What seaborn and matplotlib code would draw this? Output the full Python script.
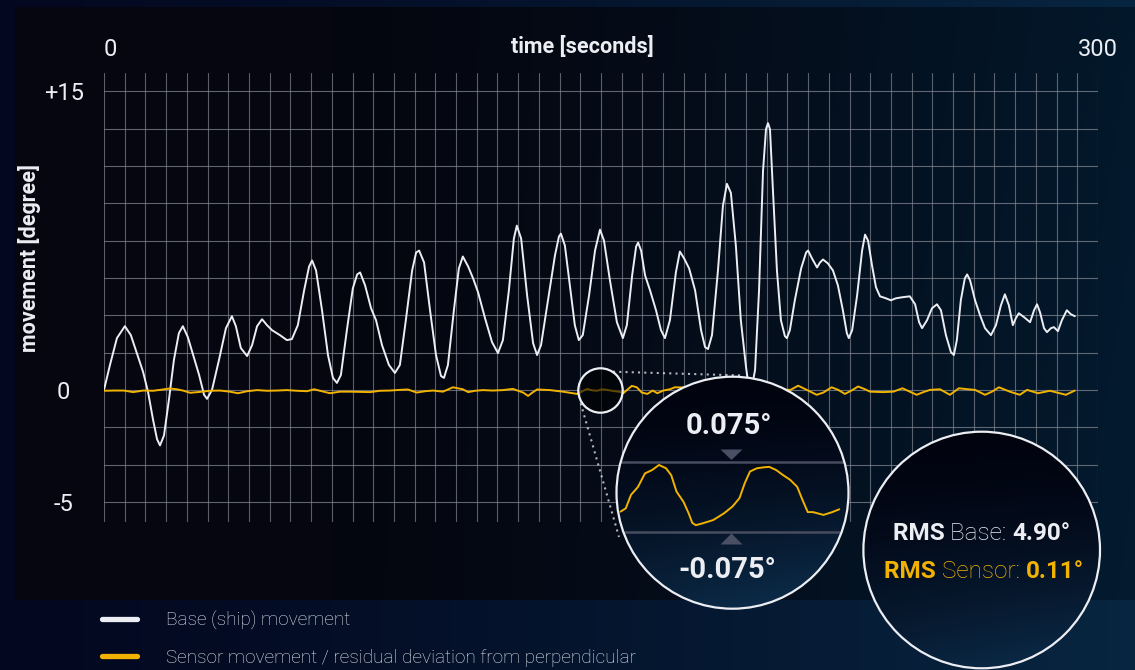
import numpy as np
import seaborn as sns
import matplotlib.pyplot as plt
import matplotlib.colors as mcolors
from matplotlib.patches import Circle
from matplotlib.lines import Line2D

# ---- data ----------------------------------------------------------------
# base (ship) movement: time [s], angle [degree]
base_t = [0.0, 1.8, 3.9, 6.3, 8.1, 10.3, 11.8, 13.3, 14.8, 16.0,
          16.9, 18.1, 19.6, 21.1, 22.6, 23.8, 25.3, 26.9, 28.7, 30.2,
          31.1, 32.6, 34.7, 36.8, 38.6, 39.8, 41.3, 43.2, 44.7, 46.2,
          47.7, 49.2, 50.7, 53.1, 55.2, 56.7, 58.5, 60.4, 61.9, 62.8,
          64.0, 65.8, 67.6, 69.1, 70.3, 71.5, 73.3, 75.1, 76.4, 77.3,
          78.8, 80.6, 82.1, 83.9, 86.0, 87.8, 89.3, 91.1, 93.0, 94.2,
          95.1, 96.6, 98.4, 100.2, 101.7, 102.6, 103.8, 105.6, 107.1, 108.3,
          109.9, 111.4, 112.9, 115.0, 117.1, 118.9, 120.4, 122.2, 123.7, 124.6,
          125.9, 127.7, 129.5, 130.7, 131.9, 134.0, 136.1, 137.3, 137.9, 139.1,
          140.6, 142.1, 143.3, 144.5, 146.4, 148.2, 149.7, 150.9, 152.7, 154.8,
          156.6, 157.8, 159.4, 160.6, 161.2, 162.1, 163.3, 164.8, 166.6, 168.1,
          169.3, 170.8, 172.6, 173.8, 175.1, 176.6, 178.4, 180.2, 181.4, 182.3,
          183.5, 185.3, 186.8, 188.0, 189.2, 190.7, 192.2, 193.8, 195.0, 196.5,
          197.7, 198.9, 199.8, 200.4, 201.0, 201.9, 203.1, 204.3, 205.5, 206.1,
          207.0, 208.5, 210.4, 211.9, 212.5, 213.7, 215.2, 216.1, 217.0, 218.5,
          220.0, 221.5, 223.0, 224.2, 224.8, 225.8, 227.3, 228.8, 229.7, 230.6,
          231.8, 233.0, 234.2, 236.0, 237.5, 239.0, 240.8, 243.2, 244.8, 246.0,
          246.9, 248.4, 249.9, 251.4, 252.6, 254.1, 255.6, 256.5, 257.4, 258.6,
          259.8, 260.5, 261.4, 262.9, 264.4, 265.9, 267.7, 269.2, 270.7, 271.9,
          273.1, 274.3, 275.2, 276.1, 277.7, 279.5, 280.7, 281.6, 282.5, 283.7,
          284.6, 285.8, 286.7, 287.9, 289.1, 290.6, 291.8, 293.0]
base_deg = [0.0, 1.25, 2.6, 3.2, 2.75, 1.65, 0.9, -0.1, -1.33, -2.2,
            -2.48, -2.04, -0.44, 1.5, 2.85, 3.2, 2.65, 1.75, 0.75, -0.22,
            -0.4, 0.0, 1.5, 3.1, 3.7, 3.2, 2.1, 1.7, 2.25, 3.2,
            3.55, 3.25, 3.0, 2.75, 2.5, 2.55, 3.25, 5.0, 6.2, 6.5,
            6.0, 4.0, 1.75, 0.6, 0.35, 0.75, 3.0, 5.1, 5.8, 5.9,
            5.25, 4.1, 3.5, 2.25, 1.25, 0.85, 1.25, 3.5, 6.0, 6.9,
            7.0, 6.4, 4.0, 1.75, 0.7, 0.6, 1.25, 4.0, 6.1, 6.7,
            6.2, 5.6, 4.9, 3.6, 2.4, 1.85, 2.5, 5.0, 7.6, 8.25,
            7.6, 4.75, 2.35, 1.75, 2.25, 4.5, 6.75, 7.7, 7.85, 7.25,
            5.25, 3.25, 2.5, 2.75, 4.75, 7.0, 8.05, 7.5, 5.5, 3.4,
            2.6, 3.25, 5.75, 7.2, 7.4, 7.0, 5.75, 5.0, 4.0, 3.0,
            2.6, 3.5, 5.9, 6.95, 6.6, 6.1, 5.0, 3.0, 2.15, 2.05,
            2.75, 6.0, 9.25, 10.35, 9.9, 7.25, 3.5, 1.1, -0.3, 1.0,
            5.0, 11.0, 13.1, 13.4, 13.1, 10.0, 6.0, 3.5, 2.7, 2.6,
            3.0, 4.5, 6.1, 6.9, 7.0, 6.6, 6.15, 6.4, 6.55, 6.35,
            6.0, 5.25, 4.0, 2.85, 2.6, 3.0, 4.75, 7.0, 7.8, 7.5,
            6.25, 5.15, 4.7, 4.6, 4.5, 4.6, 4.65, 4.7, 4.3, 3.4,
            3.1, 3.5, 4.1, 4.3, 4.0, 2.75, 1.9, 1.75, 2.5, 4.5,
            5.6, 5.8, 5.5, 4.5, 3.75, 3.1, 2.75, 3.25, 4.25, 4.8,
            4.25, 3.25, 3.6, 3.85, 3.65, 3.4, 4.0, 4.3, 3.9, 3.1,
            2.9, 3.1, 3.15, 2.95, 3.5, 4.0, 3.8, 3.7]

# sensor movement / residual deviation
sensor_t = [0.0, 3.0, 6.0, 8.8, 11.8, 14.8, 17.8, 19.9, 22.0, 23.8,
            26.0, 29.0, 32.0, 35.0, 38.0, 40.4, 43.2, 46.2, 49.2, 52.2,
            55.2, 58.2, 61.3, 63.4, 65.2, 68.2, 71.2, 74.2, 77.3, 80.3,
            83.3, 86.3, 89.3, 91.7, 94.4, 96.9, 99.3, 102.3, 105.3, 108.3,
            109.9, 112.0, 114.4, 117.4, 120.4, 123.4, 126.5, 128.0, 129.2, 130.7,
            134.6, 138.5, 140.6, 142.8, 144.3, 145.8, 147.3, 148.8, 150.3, 151.8,
            153.3, 155.7, 156.7, 159.3, 160.8, 162.3, 164.0, 165.6, 167.0, 168.8,
            170.8, 172.3, 207.2, 209.5, 212.1, 215.1, 217.1, 219.6, 221.6, 223.6,
            225.6, 227.6, 229.7, 231.2, 235.2, 238.2, 241.0, 243.2, 245.3, 247.3,
            249.3, 252.3, 255.3, 258.0, 260.8, 262.9, 265.9, 268.0, 270.1, 273.4,
            276.4, 278.6, 281.9, 285.5, 290.3, 293.0]
sensor_deg = [-0.04, -0.03, -0.03, -0.10, -0.03, -0.04, 0.02, 0.07, 0.03, -0.03,
              -0.13, -0.09, -0.04, -0.03, -0.08, -0.15, -0.06, -0.01, -0.04, -0.03,
              -0.01, -0.04, -0.06, 0.03, -0.04, -0.15, -0.08, -0.08, -0.09, -0.10,
              -0.04, -0.03, 0.0, 0.02, -0.12, -0.06, -0.03, -0.08, 0.13, 0.03,
              -0.10, -0.04, -0.01, -0.03, -0.01, 0.05, -0.12, -0.27, -0.13, 0.02,
              -0.01, -0.08, -0.13, -0.18, -0.07, 0.05, -0.02, -0.04, 0.03, 0.0,
              -0.04, -0.09, -0.15, 0.2, 0.13, -0.12, -0.18, -0.03, -0.15, -0.03,
              0.03, 0.13, 0.0, 0.21, 0.0, -0.22, -0.12, 0.13, 0.0, -0.18,
              -0.03, 0.17, 0.03, -0.08, -0.10, -0.08, 0.08, -0.08, -0.22, -0.10,
              0.0, 0.03, -0.22, 0.08, 0.03, 0.0, -0.22, -0.08, 0.13, -0.08,
              -0.22, 0.0, -0.15, -0.04, -0.22, -0.03]

# magnified sensor trace shown in the lens
zoom_t = [143.3, 143.6, 143.9, 144.3, 144.7, 145.1, 145.5, 145.9, 146.2, 146.5,
          146.9, 147.2, 147.4, 147.6, 148.0, 148.6, 149.2, 149.7, 150.1, 150.4,
          150.7, 151.1, 151.5, 151.8, 152.2, 152.6, 153.0, 153.4, 153.7, 154.0,
          154.3, 154.9, 155.4, 155.8]
zoom_deg = [-0.032, -0.025, 0.004, 0.021, 0.050, 0.057, 0.068, 0.061, 0.046, 0.011,
            -0.011, -0.036, -0.056, -0.061, -0.057, -0.050, -0.036, -0.021, -0.003, 0.029,
            0.054, 0.061, 0.063, 0.064, 0.057, 0.046, 0.036, 0.021, -0.007, -0.033,
            -0.033, -0.039, -0.033, -0.027]
zoom_range = [-0.075, 0.075]

x_ticks = [0, 300]
x_labels = ['0', '300']
y_ticks = [-5, 0, 15]
y_labels = ['-5', '0', '+15']
rms_base = 4.90
rms_sensor = 0.11
legend_labels = ['Base (ship) movement',
                 'Sensor movement / residual deviation from perpendicular']

# ---- style ----------------------------------------------------------------
WHITE = '#eceef3'
YELLOW = '#f2b300'
GRID = '#80848f'
W, H = 1135, 670

sns.set_theme(style='dark', rc={'axes.facecolor': 'none',
                                'figure.facecolor': '#040818',
                                'axes.edgecolor': 'none'})
plt.rcParams['font.family'] = ['Roboto', 'DejaVu Sans']


def lerp(c0, c1, f):
    c0 = np.array(mcolors.to_rgb(c0))
    c1 = np.array(mcolors.to_rgb(c1))
    return np.clip(c0 + (c1 - c0) * f[..., None], 0, 1)


fig = plt.figure(figsize=(W / 100, H / 100), dpi=100)

# background: outer frame + darker panel
px = np.arange(W)[None, :] * np.ones((H, 1))
py = np.arange(H)[:, None] * np.ones((1, W))
outer = lerp('#030820', '#082641', (px / W) ** 1.3)
panel = lerp('#05060f', '#031b30', np.clip((px - 330) / 805, 0, 1) ** 1.3 * (0.85 + 0.15 * py / 600))
img = outer.copy()
mask = (px >= 15) & (py >= 7) & (py < 600)
img[mask] = panel[mask]
bg = fig.add_axes([0, 0, 1, 1], zorder=-5)
bg.imshow(img, extent=(0, W, H, 0), aspect='auto')
bg.axis('off')

# ---- main chart -------------------------------------------------------------
ax = fig.add_axes([104 / W, 1 - 522 / H, 994 / W, 449 / H])
ax.set_facecolor('none')

sns.lineplot(x=base_t, y=base_deg, ax=ax, color=WHITE, lw=1.4,
             sort=False, estimator=None, zorder=3,
             solid_joinstyle='round', solid_capstyle='round')
sns.lineplot(x=sensor_t, y=sensor_deg, ax=ax, color=YELLOW, lw=1.4,
             sort=False, estimator=None, zorder=4,
             solid_joinstyle='round', solid_capstyle='round')

# grid above zero is 15/8 deg per cell, below zero 5/3 deg per cell
step_up, step_dn = 15 / 8, 5 / 3


def fwd(y):
    y = np.asarray(y, dtype=float)
    return np.where(y >= 0, y / step_up, y / step_dn)


def inv(s):
    s = np.asarray(s, dtype=float)
    return np.where(s >= 0, s * step_up, s * step_dn)


ax.set_yscale('function', functions=(fwd, inv))
ax.set_xlim(0, 300)
ax.set_ylim(-3.54 * step_dn, 8.49 * step_up)

for k in range(49):
    ax.axvline(k * 6.25, color=GRID, lw=0.8, alpha=0.7, zorder=1)
for k in range(-3, 9):
    ax.axhline(k * step_up if k >= 0 else k * step_dn, color=GRID, lw=0.8, alpha=0.75, zorder=1)

ax.xaxis.tick_top()
ax.set_xticks(x_ticks, x_labels)
ax.set_yticks(y_ticks, y_labels)
ax.minorticks_off()
ax.tick_params(axis='x', length=0, pad=9, labelsize=17, labelcolor=WHITE)
ax.tick_params(axis='y', length=0, pad=29, labelsize=17, labelcolor=WHITE)
for lbl in ax.get_yticklabels():
    lbl.set_ha('center')
ax.get_xticklabels()[0].set_ha('left')
ax.grid(False)
for s in ax.spines.values():
    s.set_visible(False)

ax.set_xlabel('time [seconds]', fontsize=15.5, fontweight='bold', color=WHITE)
ax.xaxis.set_label_position('top')
ax.xaxis.label.set_va('center')
ax.xaxis.set_label_coords((582 - 104) / 994, (522 - 47) / 449)
ax.set_ylabel('movement [degree]', fontsize=15.5, fontweight='bold', color=WHITE)
ax.yaxis.label.set_va('center')
ax.yaxis.set_label_coords((30 - 104) / 994, (522 - 258) / 449)

# ---- overlay: lenses and annotations (pixel coordinates) -------------------
ov = fig.add_axes([0, 0, 1, 1], zorder=2)
ov.set_facecolor('none')
ov.axis('off')


def lens(cx, cy, r, top, bottom):
    n = 240
    g = np.linspace(0, 1, n)[:, None] * np.ones((1, n))
    gx = np.linspace(0, 1, n)[None, :] * np.ones((n, 1))
    f = np.clip(g ** 1.6 * (0.75 + 0.35 * gx), 0, 1)
    clip = Circle((cx, cy), r, transform=ov.transData)
    im = ov.imshow(lerp(top, bottom, f), extent=(cx - r, cx + r, cy + r, cy - r),
                   aspect='auto', interpolation='bilinear', zorder=1)
    im.set_clip_path(clip)
    ov.add_patch(Circle((cx, cy), r, facecolor='none', edgecolor=WHITE, lw=1.6, zorder=5))
    return clip


# dotted connectors from small lens to big lens
dot = dict(color=WHITE, lw=1.5, ls=(0, (1, 2)), alpha=0.75, zorder=0.5)
ov.plot([613, 743], [371.7, 375.5], **dot)
ov.plot([580.7, 619], [403.3, 537], **dot)

ov.add_patch(Circle((600.5, 390.5), 22.2, facecolor=(0, 0, 0, 0.6),
                    edgecolor=WHITE, lw=1.6, zorder=2))

big = lens(732.5, 492.7, 116, '#01030f', '#0c2d4b')
for yy in (461.7, 531.7):
    ln, = ov.plot([610, 855], [yy, yy], color='#474d5f', lw=1.8, zorder=2)
    ln.set_clip_path(big)
ov.fill([720.5, 742.5, 731.5], [449.5, 449.5, 460], color='#4a5064', zorder=2, lw=0)
ov.fill([720.5, 742.5, 731.5], [544.5, 544.5, 533.5], color='#4a5064', zorder=2, lw=0)
ov.text(729, 425.5, f'{zoom_range[1]:.3f}°', fontsize=21, fontweight='bold',
        color=WHITE, ha='center', va='center', zorder=6)
ov.text(727, 570, f'{zoom_range[0]:.3f}°', fontsize=21, fontweight='bold',
        color=WHITE, ha='center', va='center', zorder=6)

lens(981.7, 550, 118.3, '#01030f', '#0b2a47')

renderer = fig.canvas.get_renderer()


def rich_line(cx, cy, parts, size):
    texts = [ov.text(0, cy, s, fontsize=size, fontweight=w, color=c,
                     ha='left', va='center', zorder=6) for s, w, c in parts]
    widths = [t.get_window_extent(renderer).width for t in texts]
    x = cx - sum(widths) / 2
    for t, wd in zip(texts, widths):
        t.set_x(x)
        x += wd


rich_line(981.5, 533, [('RMS ', 'bold', WHITE), ('Base: ', 'light', WHITE),
                       (f'{rms_base:.2f}°', 'bold', WHITE)], 17.5)
rich_line(984, 572, [('RMS ', 'bold', YELLOW), ('Sensor: ', 'light', YELLOW),
                     (f'{rms_sensor:.2f}°', 'bold', YELLOW)], 17.5)

ov.set_xlim(0, W)
ov.set_ylim(H, 0)

# magnified trace inside the big lens
ins = fig.add_axes([617 / W, 1 - 531.7 / H, 231 / W, 70 / H], zorder=3)
ins.set_facecolor('none')
sns.lineplot(x=zoom_t, y=zoom_deg, ax=ins, color=YELLOW, lw=1.4,
             sort=False, estimator=None)
ins.set_xlim(143.1, 156.3)
ins.set_ylim(zoom_range[0], zoom_range[1])
ins.axis('off')

# ---- legend -----------------------------------------------------------------
handles = [Line2D([], [], color=WHITE, lw=3.8), Line2D([], [], color=YELLOW, lw=3.8)]
leg = fig.legend(handles, legend_labels, loc='upper left',
                 bbox_to_anchor=(102 / W, 1 - 611 / H), frameon=False,
                 fontsize=13.7, labelcolor='#e2e5eb', handlelength=1.85,
                 handletextpad=1.5, labelspacing=1.0, borderpad=0, borderaxespad=0)
for t in leg.get_texts():
    t.set_fontweight('light')

fig.savefig('out.png', dpi=100)
